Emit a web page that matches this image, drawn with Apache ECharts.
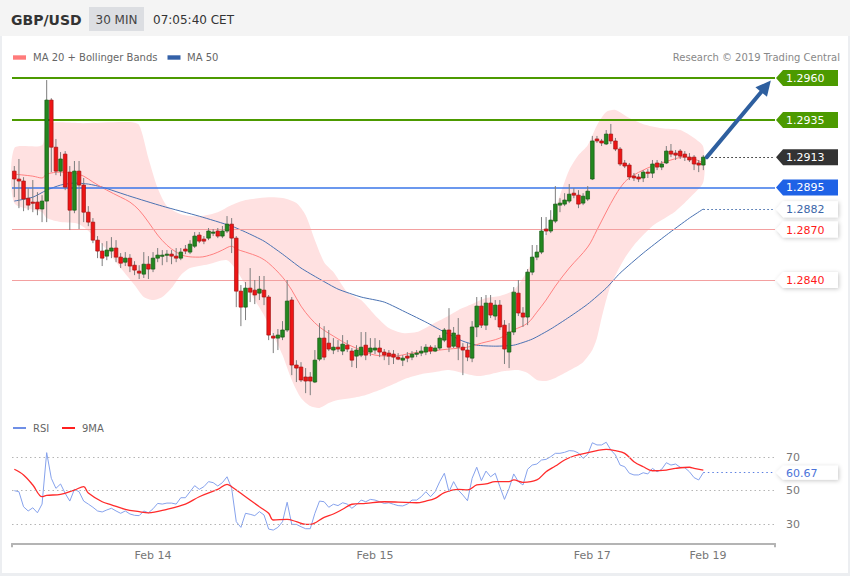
<!DOCTYPE html>
<html>
<head>
<meta charset="utf-8">
<title>GBP/USD 30 MIN</title>
<script src="https://cdn.jsdelivr.net/npm/echarts@6.0.0/dist/echarts.min.js"></script>
<style>
html,body{margin:0;padding:0;background:#fff;overflow:hidden}
#chart{width:850px;height:576px}
</style>
</head>
<body>
<div id="chart"></div>
<script>
// ---------- candle data (GBP/USD, 30 min) ----------
const opens = [1.29047,1.29000,1.28988,1.28886,1.28863,1.28863,1.28822,1.28869,1.29469,1.29189,
1.29047,1.29148,1.29041,1.28815,1.29047,1.28964,1.28803,1.28744,1.28637,1.28572,
1.28542,1.28572,1.28590,1.28536,1.28506,1.28530,1.28488,1.28453,1.28435,1.28494,
1.28465,1.28530,1.28542,1.28548,1.28554,1.28542,1.28530,1.28584,1.28566,1.28601,
1.28667,1.28643,1.28649,1.28679,1.28691,1.28661,1.28691,1.28732,1.28649,1.28334,
1.28239,1.28352,1.28340,1.28322,1.28340,1.28299,1.28067,1.28055,1.28061,1.28103,
1.28281,1.27895,1.27883,1.27824,1.27824,1.27794,1.27930,1.28055,1.28025,1.27984,
1.28001,1.27978,1.28013,1.27978,1.27948,1.27954,1.28013,1.27972,1.27984,1.27996,
1.27972,1.27966,1.27960,1.27942,1.27924,1.27948,1.27942,1.27960,1.27966,1.27972,
1.28001,1.27978,1.27996,1.28043,1.28103,1.28007,1.28073,1.28001,1.27984,1.27936,
1.28121,1.28245,1.28132,1.28263,1.28186,1.28251,1.28132,1.27972,1.28091,1.28322,
1.28204,1.28180,1.28447,1.28536,1.28566,1.28703,1.28691,1.28750,1.28845,1.28851,
1.28869,1.28916,1.28904,1.28857,1.28881,1.29000,1.29238,1.29226,1.29208,1.29267,
1.29226,1.29178,1.29095,1.29083,1.29018,1.29012,1.29006,1.29041,1.29035,1.29095,
1.29071,1.29095,1.29166,1.29154,1.29166,1.29148,1.29130,1.29130,1.29095,1.29083];
const closes = [1.29000,1.28988,1.28881,1.28845,1.28857,1.28822,1.28869,1.29469,1.29189,1.29047,
1.29119,1.28952,1.28815,1.29047,1.28964,1.28803,1.28744,1.28637,1.28572,1.28530,
1.28578,1.28590,1.28536,1.28500,1.28530,1.28483,1.28459,1.28441,1.28494,1.28465,
1.28530,1.28548,1.28548,1.28554,1.28542,1.28530,1.28566,1.28572,1.28613,1.28661,
1.28631,1.28631,1.28691,1.28685,1.28661,1.28691,1.28732,1.28649,1.28334,1.28239,
1.28352,1.28328,1.28311,1.28346,1.28299,1.28073,1.28055,1.28073,1.28103,1.28275,
1.27895,1.27877,1.27806,1.27800,1.27800,1.27924,1.28055,1.27942,1.27990,1.28001,
1.27990,1.28019,1.27990,1.27924,1.27984,1.28001,1.27954,1.27996,1.27996,1.27972,
1.27954,1.27948,1.27942,1.27930,1.27936,1.27936,1.27960,1.27966,1.27978,1.28001,
1.27978,1.27996,1.28055,1.28103,1.28001,1.28085,1.28001,1.27984,1.27942,1.28121,
1.28245,1.28132,1.28263,1.28192,1.28251,1.28121,1.27990,1.28091,1.28328,1.28204,
1.28180,1.28447,1.28536,1.28566,1.28691,1.28691,1.28756,1.28851,1.28857,1.28875,
1.28910,1.28904,1.28851,1.28898,1.28928,1.29226,1.29226,1.29214,1.29267,1.29226,
1.29178,1.29089,1.29077,1.29012,1.29006,1.29000,1.29041,1.29035,1.29089,1.29071,
1.29089,1.29166,1.29148,1.29142,1.29136,1.29130,1.29113,1.29089,1.29083,1.29130];
const highs = [1.29077,1.29119,1.29011,1.28946,1.28994,1.28922,1.28904,1.29588,1.29480,1.29238,
1.29160,1.29166,1.29077,1.29107,1.29107,1.29006,1.28839,1.28768,1.28661,1.28619,
1.28631,1.28655,1.28637,1.28560,1.28566,1.28554,1.28512,1.28488,1.28566,1.28542,
1.28566,1.28590,1.28578,1.28578,1.28578,1.28590,1.28590,1.28608,1.28637,1.28685,
1.28685,1.28661,1.28709,1.28703,1.28709,1.28721,1.28780,1.28768,1.28661,1.28370,
1.28388,1.28471,1.28400,1.28424,1.28424,1.28311,1.28085,1.28109,1.28156,1.28400,
1.28299,1.27924,1.27912,1.27877,1.27853,1.27984,1.28144,1.28126,1.28103,1.28055,
1.28043,1.28073,1.28043,1.27996,1.28013,1.28091,1.28091,1.28055,1.28055,1.28043,
1.27990,1.27984,1.27984,1.27966,1.27954,1.27972,1.27978,1.27984,1.28007,1.28019,
1.28013,1.28013,1.28073,1.28115,1.28233,1.28121,1.28174,1.28025,1.28025,1.28156,
1.28299,1.28299,1.28311,1.28311,1.28281,1.28281,1.28162,1.28144,1.28358,1.28400,
1.28239,1.28465,1.28608,1.28608,1.28774,1.28774,1.28815,1.28958,1.28886,1.28916,
1.28970,1.28946,1.28934,1.28916,1.28958,1.29256,1.29256,1.29238,1.29291,1.29327,
1.29244,1.29190,1.29113,1.29095,1.29036,1.29030,1.29053,1.29059,1.29113,1.29113,
1.29107,1.29196,1.29208,1.29172,1.29178,1.29166,1.29154,1.29142,1.29113,1.29142];
const lows = [1.28892,1.28827,1.28809,1.28815,1.28803,1.28785,1.28744,1.28744,1.29041,1.29023,
1.29017,1.28934,1.28697,1.28797,1.28703,1.28744,1.28720,1.28619,1.28530,1.28483,
1.28518,1.28530,1.28506,1.28471,1.28483,1.28447,1.28429,1.28406,1.28412,1.28406,
1.28447,1.28506,1.28488,1.28506,1.28494,1.28506,1.28518,1.28554,1.28554,1.28590,
1.28619,1.28613,1.28637,1.28661,1.28649,1.28649,1.28679,1.28560,1.28239,1.28126,
1.28162,1.28269,1.28257,1.28281,1.28251,1.28043,1.27966,1.27984,1.28043,1.28091,
1.27835,1.27794,1.27794,1.27728,1.27716,1.27788,1.27918,1.27924,1.27978,1.27960,
1.27972,1.27954,1.27972,1.27883,1.27877,1.27942,1.27924,1.27948,1.27960,1.27942,
1.27924,1.27895,1.27901,1.27924,1.27889,1.27912,1.27924,1.27942,1.27948,1.27954,
1.27960,1.27972,1.27984,1.28031,1.27972,1.27996,1.27924,1.27835,1.27918,1.27912,
1.28061,1.28115,1.28103,1.28174,1.28162,1.28103,1.27901,1.27877,1.28073,1.28186,
1.28121,1.28132,1.28429,1.28518,1.28554,1.28667,1.28679,1.28738,1.28803,1.28839,
1.28857,1.28886,1.28827,1.28845,1.28869,1.28994,1.29214,1.29196,1.29202,1.29208,
1.29166,1.29077,1.29065,1.28994,1.28988,1.28982,1.28982,1.29006,1.29006,1.29053,
1.29053,1.29089,1.29130,1.29113,1.29119,1.29107,1.29101,1.29053,1.29041,1.29053];

// ---------- x axis ----------
const slotCount = 165;
const tickIdx = [30, 78, 125, 150];
const tickText = ['Feb 14', 'Feb 15', 'Feb 17', 'Feb 19'];

// ---------- Bollinger bands / moving averages (read at candle indices) ----------
const upperIdx = [0,6,7,15,25,27,29,31,33,36,40,44,47,50,55,58,61,63,65,67,69,72,75,78,81,84,87,90,93,96,99,102,105,108,110,112,114,116,118,120,122,124,126,128,130,133,136,140,144,147,149];
const upperVal = [1.29183,1.29201,1.29326,1.29332,1.29338,1.29320,1.29124,1.28946,1.28839,1.28791,1.28779,1.28803,1.28845,1.28875,1.28892,1.28887,1.28857,1.28785,1.28637,1.28506,1.28447,1.28328,1.28281,1.28191,1.28115,1.28085,1.28091,1.28132,1.28174,1.28221,1.28257,1.28293,1.28305,1.28340,1.28412,1.28506,1.28607,1.28744,1.28904,1.29053,1.29142,1.29201,1.29320,1.29398,1.29410,1.29362,1.29326,1.29302,1.29291,1.29243,1.29190];
const lowerIdx = [0,6,7,10,14,17,20,23,26,28,30,32,34,36,38,42,46,48,50,52,54,56,58,60,62,64,66,68,70,73,76,79,82,85,88,91,94,97,100,103,106,109,111,113,115,117,119,121,123,125,126,127,128,129,130,132,134,136,138,140,143,146,149];
const lowerVal = [1.28857,1.28803,1.28768,1.28744,1.28732,1.28667,1.28578,1.28471,1.28370,1.28299,1.28281,1.28299,1.28352,1.28429,1.28471,1.28494,1.28518,1.28459,1.28370,1.28281,1.28191,1.28073,1.27954,1.27806,1.27699,1.27651,1.27640,1.27669,1.27687,1.27699,1.27717,1.27746,1.27782,1.27818,1.27841,1.27853,1.27865,1.27847,1.27830,1.27841,1.27859,1.27865,1.27847,1.27806,1.27800,1.27818,1.27847,1.27877,1.27912,1.27984,1.28055,1.28174,1.28281,1.28370,1.28429,1.28530,1.28607,1.28667,1.28721,1.28756,1.28809,1.28887,1.28982];
const ma20Idx = [0,4,6,7,10,13,15,17,20,23,25,27,29,31,33,35,37,40,43,45,47,48,50,53,55,58,60,62,64,66,69,72,75,78,82,86,90,94,98,101,105,108,111,113,115,117,120,124,126,128,130,132,134,136,138,142,145,147,149];
const ma20Val = [1.29029,1.29017,1.29006,1.29029,1.29041,1.29035,1.29017,1.28982,1.28934,1.28892,1.28863,1.28815,1.28744,1.28667,1.28607,1.28566,1.28542,1.28536,1.28554,1.28578,1.28601,1.28584,1.28566,1.28536,1.28500,1.28417,1.28340,1.28245,1.28174,1.28121,1.28067,1.28019,1.27984,1.27954,1.27948,1.27966,1.27978,1.27990,1.28001,1.28025,1.28055,1.28103,1.28144,1.28209,1.28281,1.28364,1.28471,1.28596,1.28697,1.28804,1.28904,1.28982,1.29024,1.29053,1.29077,1.29113,1.29131,1.29119,1.29095];
const ma50Idx = [0,4,7,10,13,16,19,25,32,40,47,50,54,58,62,66,70,75,80,85,89,93,97,100,104,108,112,116,120,124,128,131,136,141,146,149];
const ma50Val = [1.28869,1.28892,1.28934,1.28964,1.28976,1.28970,1.28952,1.28898,1.28839,1.28779,1.28720,1.28685,1.28631,1.28554,1.28471,1.28406,1.28346,1.28299,1.28269,1.28204,1.28150,1.28091,1.28037,1.28013,1.28007,1.28013,1.28049,1.28109,1.28180,1.28257,1.28352,1.28441,1.28560,1.28667,1.28768,1.28822];

// ---------- RSI panel ----------
const rsi = [49.9,49.3,40.3,37.8,39.7,36.7,41.9,72.6,57.3,51.3,
53.9,48.3,43.7,50.7,49.3,43.7,41.9,40.0,37.8,37.2,
38.4,39.4,37.8,36.4,37.8,36.0,35.2,35.0,37.8,36.7,
39.1,42.3,41.9,42.5,42.5,41.9,45.7,45.7,49.3,52.9,
50.7,52.3,55.3,54.7,52.7,54.7,58.2,51.3,31.4,28.0,
36.4,35.8,35.0,37.4,35.4,27.0,26.4,28.0,31.4,43.0,
29.8,29.8,28.4,27.2,27.2,36.4,43.7,43.3,40.0,41.8,
41.0,42.7,41.9,39.4,41.5,44.3,43.3,44.7,44.3,43.3,
42.3,42.7,41.8,41.0,40.8,41.9,44.3,44.3,46.3,
49.3,46.3,49.3,55.3,60.3,49.3,55.3,50.3,47.3,43.9,
57.3,63.9,55.9,61.6,58.2,60.3,52.3,44.7,51.3,59.9,
55.3,53.3,62.7,65.2,65.8,68.2,68.6,70.2,72.2,72.2,
72.8,73.8,73.6,72.4,69.2,71.6,78.5,77.2,77.2,78.8,
74.2,71.2,65.2,64.2,60.3,59.3,59.3,60.6,59.9,63.2,
61.2,62.7,66.6,65.2,65.8,63.9,63.6,61.2,57.7,56.3,
60.67];
const rsiMaIdx = [0,2,4,6,7,10,13,15,16,19,21,24,27,29,33,37,40,44,46,47,50,53,55,56,59,61,63,64,67,69,71,73,76,80,83,87,89,91,93,96,98,100,102,104,107,108,110,113,115,117,119,121,124,126,128,130,132,134,136,138,141,143,146,147,149];
const rsiMaVal = [62.7,59.3,53.3,46.3,47.1,47.7,50.3,52.3,48.5,43.3,41.5,38.8,37.4,36.7,38.8,41.9,46.3,50.7,53.7,52.3,46.3,40.3,36.4,32.4,32.8,31.4,29.8,29.8,34.0,36.0,38.8,41.8,42.3,43.3,43.1,42.7,43.7,45.3,48.7,50.7,50.3,53.3,53.9,55.3,55.3,56.3,54.9,56.3,61.2,64.6,68.2,70.6,72.6,73.8,74.6,73.8,72.2,67.2,64.2,61.8,62.2,63.2,63.9,63.2,62.2];
const rsiGuides = [30, 50, 70];
const rsiLast = 60.67;
const rsiLastLabel = '60.67';

// ---------- key levels & forecast arrow ----------
const levelValues = [1.2960, 1.2935, 1.2913, 1.2895, 1.2882, 1.2870, 1.2840];
const levelLabels = ['1.2960', '1.2935', '1.2913', '1.2895', '1.2882', '1.2870', '1.2840'];
const arrowFrom = [149.75, 1.29130];
const arrowTo = [163.6, 1.29585];

// ---------- styles ----------
const FONT = '"DejaVu Sans", Verdana, sans-serif';
const levelStyle = [
  {line:'#4c9a00', width:2,   tag:'#4c9a00', text:'#ffffff', kind:'full'},
  {line:'#4c9a00', width:2,   tag:'#4c9a00', text:'#ffffff', kind:'full'},
  {line:'#222222', width:1,   tag:'#333333', text:'#ffffff', kind:'dot'},
  {line:'#3a76e8', width:1.5, tag:'#1f62e6', text:'#ffffff', kind:'full'},
  {line:'#3b66a8', width:1,   tag:'#ffffff', text:'#3b66a8', kind:'dot', shadow:true},
  {line:'#f3a0a0', width:1.2, tag:'#ffffff', text:'#ff1a1a', kind:'full', shadow:true},
  {line:'#f3a0a0', width:1.2, tag:'#ffffff', text:'#ff1a1a', kind:'full', shadow:true}
];

const chart = echarts.init(document.getElementById('chart'), null, {renderer:'svg', width:850, height:576});

const pair = (idx, val) => idx.map((x, k) => [x, val[k]]);
const cats = Array.from({length: slotCount}, (_, i) => String(i));
const candleData = opens.map((o, i) => [i, o, closes[i], lows[i], highs[i]]);
const lastIdx = closes.length - 1;

const levelLines = levelValues.map((v, k) => {
  const s = levelStyle[k];
  const ls = {color: s.line, width: s.width, type: s.kind === 'dot' ? [1.5, 2.5] : 'solid'};
  if (s.kind === 'full') return {yAxis: v, lineStyle: ls};
  return [{coord: [lastIdx, v], lineStyle: ls}, {coord: [slotCount - 1, v], lineStyle: ls}];
});

const rsiLines = rsiGuides.map(v => ({yAxis: v, lineStyle: {color: '#b5b5b5', width: 1, type: [1.5, 3]}}));
rsiLines.push([
  {coord: [lastIdx, rsiLast], lineStyle: {color: '#5b7fe0', width: 1, type: [1.5, 3]}},
  {coord: [slotCount - 1, rsiLast], lineStyle: {color: '#5b7fe0', width: 1, type: [1.5, 3]}}
]);

const option = {
  animation: false,
  backgroundColor: '#ffffff',
  grid: [
    {left: 12, right: 75, top: 69.6, height: 345.1},
    {left: 12, right: 75, top: 436.9, height: 106.4}
  ],
  xAxis: [
    {type: 'category', gridIndex: 0, data: cats, boundaryGap: true, show: false},
    {type: 'category', gridIndex: 1, data: cats, boundaryGap: true,
     axisLine: {show: true, lineStyle: {color: '#b4b4b4', width: 2}},
     axisTick: {show: false},
     splitLine: {show: false},
     axisLabel: {
       interval: (i) => tickIdx.includes(i),
       formatter: (v, i) => { const k = tickIdx.indexOf(i); return k < 0 ? '' : tickText[k]; },
       color: '#777', fontSize: 11, fontFamily: FONT, margin: 7
     }}
  ],
  yAxis: [
    {type: 'value', gridIndex: 0, min: 1.2760, max: 1.2965, show: false, splitLine: {show: false}},
    {type: 'value', gridIndex: 1, min: 18.5, max: 82, position: 'right',
     axisLine: {show: false}, axisTick: {show: false}, splitLine: {show: false},
     axisLabel: {customValues: rsiGuides, color: '#777', fontSize: 11, fontFamily: FONT, margin: 11}}
  ],
  series: [
    {name: 'Bollinger', type: 'custom', xAxisIndex: 0, yAxisIndex: 0, data: pair(upperIdx, upperVal),
     silent: true, z: 1, encode: {x: 0, y: 1},
     renderItem: (params, api) => {
       if (params.dataIndex !== 0) return null;
       const up = upperIdx.map((x, k) => api.coord([x, upperVal[k]]));
       const lo = lowerIdx.map((x, k) => api.coord([x, lowerVal[k]])).reverse();
       return {type: 'polygon', shape: {points: up.concat(lo), smooth: 0.25}, style: {fill: '#ffe1e1'}};
     }},
    {name: 'MA 50', type: 'line', xAxisIndex: 0, yAxisIndex: 0, data: pair(ma50Idx, ma50Val),
     smooth: 0.2, symbol: 'none', silent: true, z: 3,
     lineStyle: {color: '#4a72b2', width: 1}},
    {name: 'levels', type: 'line', xAxisIndex: 0, yAxisIndex: 0, data: closes,
     symbol: 'none', silent: true, z: 2,
     lineStyle: {width: 0, opacity: 0},
     markLine: {silent: true, precision: 5, symbol: ['none', 'none'], label: {show: false}, data: levelLines}},
    {name: 'MA 20', type: 'line', xAxisIndex: 0, yAxisIndex: 0, data: pair(ma20Idx, ma20Val),
     smooth: 0.35, symbol: 'none', silent: true, z: 4,
     lineStyle: {color: '#ff8080', width: 1}},
    {name: 'GBP/USD', type: 'custom', xAxisIndex: 0, yAxisIndex: 0, data: candleData, z: 5,
     encode: {x: 0, y: [1, 2, 3, 4]},
     renderItem: (params, api) => {
       const i = api.value(0);
       const o = api.value(1), c = api.value(2), l = api.value(3), h = api.value(4);
       const pO = api.coord([i, o]), pC = api.coord([i, c]);
       const pL = api.coord([i, l]), pH = api.coord([i, h]);
       const x = pO[0];
       const up = c >= o;
       const top = Math.min(pO[1], pC[1]);
       const hgt = Math.max(1.2, Math.abs(pO[1] - pC[1]));
       const bw = 3.6;
       return {type: 'group', children: [
         {type: 'line', shape: {x1: x, y1: pH[1], x2: x, y2: pL[1]}, style: {stroke: '#7d7d7d', lineWidth: 1}},
         {type: 'rect', shape: {x: x - bw / 2, y: top, width: bw, height: hgt},
          style: {fill: up ? '#23871f' : '#ee1515', stroke: up ? '#175a14' : '#a31414', lineWidth: 0.7}}
       ]};
     }},
    {name: 'RSI', type: 'line', xAxisIndex: 1, yAxisIndex: 1, data: rsi,
     symbol: 'none', silent: true, z: 3,
     lineStyle: {color: '#86a2ec', width: 1},
     markLine: {silent: true, precision: 2, symbol: ['none', 'none'], label: {show: false}, data: rsiLines}},
    {name: '9MA', type: 'line', xAxisIndex: 1, yAxisIndex: 1, data: pair(rsiMaIdx, rsiMaVal),
     smooth: 0.35, symbol: 'none', silent: true, z: 4,
     lineStyle: {color: '#ff2b2b', width: 1.3}}
  ]
};
chart.setOption(option);

// ---------- annotations positioned through the axes ----------
function px(idx, val, gi) {
  const i0 = Math.floor(idx), f = idx - i0;
  const a = chart.convertToPixel({xAxisIndex: gi, yAxisIndex: gi}, [i0, val]);
  const b = chart.convertToPixel({xAxisIndex: gi, yAxisIndex: gi}, [i0 + 1, val]);
  return [a[0] + f * (b[0] - a[0]), a[1]];
}

const g = [];
g.push({type: 'rect', shape: {x: 0, y: 0, width: 850, height: 36}, style: {fill: '#f4f4f4'}, silent: true});
g.push({type: 'rect', shape: {x: 0, y: 36, width: 2, height: 540}, style: {fill: '#eceef1'}, silent: true});
g.push({type: 'rect', shape: {x: 848, y: 36, width: 2, height: 540}, style: {fill: '#eceef1'}, silent: true});
g.push({type: 'rect', shape: {x: 0, y: 573, width: 850, height: 3}, style: {fill: '#eceef1'}, silent: true});
g.push({type: 'text', style: {x: 11, y: 19.5, text: 'GBP/USD', font: 'bold 14px ' + FONT, fill: '#333', verticalAlign: 'middle'}});
g.push({type: 'rect', shape: {x: 89, y: 7, width: 55, height: 24}, style: {fill: '#dcdee2'}});
g.push({type: 'text', style: {x: 116.5, y: 19.5, text: '30 MIN', font: '12px ' + FONT, fill: '#444', align: 'center', verticalAlign: 'middle'}});
g.push({type: 'text', style: {x: 153, y: 19.5, text: '07:05:40 CET', font: '12px ' + FONT, fill: '#333', verticalAlign: 'middle'}});

g.push({type: 'rect', shape: {x: 13, y: 55.3, width: 13, height: 4.4}, style: {fill: '#ff7b7b'}});
g.push({type: 'text', style: {x: 33, y: 57.5, text: 'MA 20 + Bollinger Bands', font: '10px ' + FONT, fill: '#666', verticalAlign: 'middle'}});
g.push({type: 'rect', shape: {x: 167.5, y: 55.3, width: 13, height: 4.4}, style: {fill: '#3461a8'}});
g.push({type: 'text', style: {x: 187, y: 57.5, text: 'MA 50', font: '10px ' + FONT, fill: '#666', verticalAlign: 'middle'}});
g.push({type: 'text', style: {x: 840, y: 57.5, text: 'Research \u00a9 2019 Trading Central', font: '10px ' + FONT, fill: '#888', align: 'right', verticalAlign: 'middle'}});

g.push({type: 'rect', shape: {x: 13, y: 427, width: 13, height: 2}, style: {fill: '#6f8fe6'}});
g.push({type: 'text', style: {x: 33, y: 428, text: 'RSI', font: '10px ' + FONT, fill: '#666', verticalAlign: 'middle'}});
g.push({type: 'rect', shape: {x: 62, y: 427, width: 13, height: 2}, style: {fill: '#ff2020'}});
g.push({type: 'text', style: {x: 82, y: 428, text: '9MA', font: '10px ' + FONT, fill: '#666', verticalAlign: 'middle'}});

// axis end ticks
const axisY = chart.convertToPixel({yAxisIndex: 1}, 18.5);
g.push({type: 'line', shape: {x1: 12, y1: axisY, x2: 12, y2: axisY + 4}, style: {stroke: '#b4b4b4', lineWidth: 2}});
g.push({type: 'line', shape: {x1: 775, y1: axisY, x2: 775, y2: axisY + 4}, style: {stroke: '#b4b4b4', lineWidth: 2}});

function tag(y, fill, textColor, label, half, shadow) {
  g.push({type: 'polygon', z: 10,
    shape: {points: [[776, y], [783, y - half], [838, y - half], [838, y + half], [783, y + half]]},
    style: {fill: fill, shadowBlur: shadow ? 4 : 0, shadowColor: 'rgba(0,0,0,0.22)', shadowOffsetX: shadow ? 1 : 0, shadowOffsetY: shadow ? 1 : 0}});
  g.push({type: 'text', z: 11, style: {x: 786, y: y + 0.5, text: label, font: '11px ' + FONT, fill: textColor, verticalAlign: 'middle'}});
}
levelValues.forEach((v, k) => {
  const y = chart.convertToPixel({yAxisIndex: 0}, v);
  const s = levelStyle[k];
  tag(y, s.tag, s.text, levelLabels[k], 8, !!s.shadow);
});
tag(chart.convertToPixel({yAxisIndex: 1}, rsiLast), '#ffffff', '#4b73d9', rsiLastLabel, 7, true);

// forecast arrow
const a0 = px(arrowFrom[0], arrowFrom[1], 0);
const a1 = px(arrowTo[0], arrowTo[1], 0);
const dx = a1[0] - a0[0], dy = a1[1] - a0[1];
const len = Math.hypot(dx, dy);
const ux = dx / len, uy = dy / len;
const headL = 15, headW = 7.5;
const bx = a1[0] - ux * headL, by = a1[1] - uy * headL;
g.push({type: 'line', z: 12, shape: {x1: a0[0], y1: a0[1], x2: bx + ux * 2, y2: by + uy * 2},
  style: {stroke: '#2e5f9f', lineWidth: 4, lineCap: 'round'}});
g.push({type: 'polygon', z: 12, shape: {points: [[a1[0], a1[1]], [bx - uy * headW, by + ux * headW], [bx + uy * headW, by - ux * headW]]},
  style: {fill: '#2e5f9f'}});

chart.setOption({graphic: g});
</script>
</body>
</html>
